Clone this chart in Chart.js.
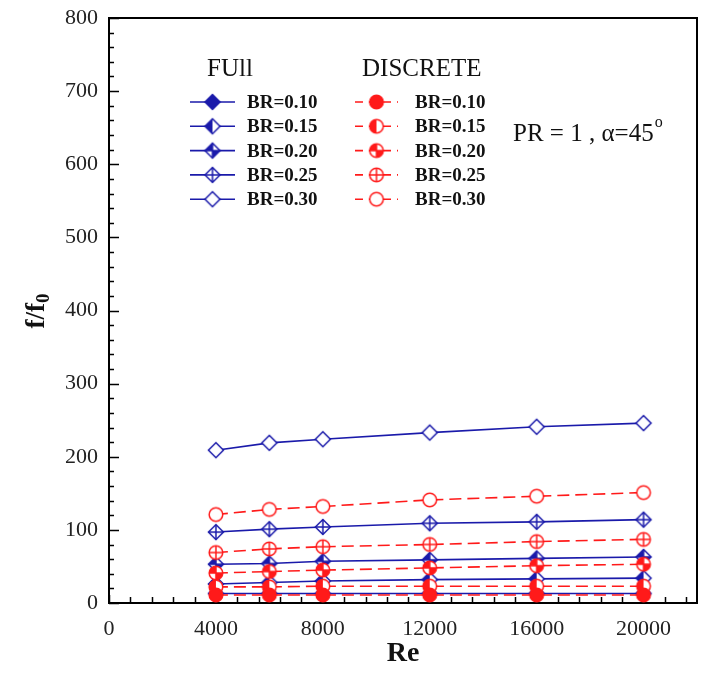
<!DOCTYPE html>
<html lang="en">
<head>
<meta charset="UTF-8">
<title>f/f0 vs Re</title>
<script src="https://cdn.jsdelivr.net/npm/chart.js"></script>
<style>
  html, body { margin: 0; padding: 0; background: #fff; }
  #wrap { width: 704px; height: 683px; }
</style>
</head>
<body>
<div id="wrap"><canvas id="chart" width="704" height="683"></canvas></div>
<script>
// data
const reValues = [4000, 6000, 8000, 12000, 16000, 20000];
const xTickValues = [0, 4000, 8000, 12000, 16000, 20000];
const yTickValues = [0, 100, 200, 300, 400, 500, 600, 700, 800];
const brLabels = ['BR=0.10', 'BR=0.15', 'BR=0.20', 'BR=0.25', 'BR=0.30'];

const fullBR010 = [13, 13, 13, 13, 13, 13];
const fullBR015 = [26, 28, 30, 32, 33, 34];
const fullBR020 = [53, 54, 57, 59, 61, 63];
const fullBR025 = [97, 101, 104, 109, 111, 114];
const fullBR030 = [209, 219, 224, 233, 241, 246];

const discreteBR010 = [11, 11, 11, 11, 11, 11];
const discreteBR015 = [22, 22, 23, 23, 23, 23];
const discreteBR020 = [41, 43, 45, 48, 51, 53];
const discreteBR025 = [69, 74, 77, 80, 84, 87];
const discreteBR030 = [121, 128, 132, 141, 146, 151];

const BLUE = '#1a1aaa';
const RED = '#ff1a1a';
const SERIF = "'Liberation Serif', 'Times New Roman', serif";

// little canvases used as point styles (and in the legend)
function makeMarker(shape, fill, color) {
    const s = 20, c = s / 2;
    const cv = document.createElement('canvas');
    cv.width = s; cv.height = s;
    const g = cv.getContext('2d');
    const r = shape === 'diamond' ? 7.5 : 6.8;
    const path = () => {
        g.beginPath();
        if (shape === 'diamond') {
            g.moveTo(c, c - r); g.lineTo(c + r, c); g.lineTo(c, c + r); g.lineTo(c - r, c); g.closePath();
        } else {
            g.arc(c, c, r, 0, Math.PI * 2);
        }
    };
    path(); g.fillStyle = '#fff'; g.fill();
    g.save(); path(); g.clip();
    g.fillStyle = color;
    if (fill === 'full') g.fillRect(0, 0, s, s);
    if (fill === 'left') g.fillRect(0, 0, c, s);
    if (fill === 'quad') { g.fillRect(0, 0, c, c); g.fillRect(c, c, c, c); }
    g.restore();
    g.strokeStyle = color; g.lineWidth = 1.5;
    if (fill === 'cross' || fill === 'quad') {
        g.beginPath();
        g.moveTo(c - r, c); g.lineTo(c + r, c);
        g.moveTo(c, c - r); g.lineTo(c, c + r);
        g.stroke();
    }
    path(); g.stroke();
    return cv;
}

const fullSeries = [fullBR010, fullBR015, fullBR020, fullBR025, fullBR030];
const discreteSeries = [discreteBR010, discreteBR015, discreteBR020, discreteBR025, discreteBR030];
const fills = ['full', 'left', 'quad', 'cross', 'open'];

const datasets = [];
fullSeries.forEach((arr, k) => {
    datasets.push({
        label: brLabels[k], group: 'full',
        data: reValues.map((x, i) => ({ x: x, y: arr[i] })),
        borderColor: BLUE, borderWidth: 1.6,
        pointStyle: makeMarker('diamond', fills[k], BLUE),
        order: 1
    });
});
discreteSeries.forEach((arr, k) => {
    datasets.push({
        label: brLabels[k], group: 'discrete',
        data: reValues.map((x, i) => ({ x: x, y: arr[i] })),
        borderColor: RED, borderWidth: 1.6, borderDash: [12, 6],
        pointStyle: makeMarker('circle', fills[k], RED),
        order: 0
    });
});

const legendCols = {
    full: { title: 'FUll', titleX: 207, x0: 190, x1: 235, textX: 247 },
    discrete: { title: 'DISCRETE', titleX: 362, x0: 355, x1: 398, textX: 415 }
};
const legendTitleY = 69, legendTop = 102, legendStep = 24.3;

const decorations = {
    id: 'decorations',
    beforeDatasetsDraw(chart) {
        const ctx = chart.ctx, a = chart.chartArea;
        const xs = chart.scales.x, ys = chart.scales.y;
        ctx.save();
        ctx.strokeStyle = '#000';
        ctx.lineWidth = 2;
        ctx.strokeRect(a.left, a.top, a.right - a.left, a.bottom - a.top);
        ctx.lineWidth = 1.5;
        ctx.beginPath();
        for (let v = ys.min; v <= ys.max; v += 20) {
            const py = Math.round(ys.getPixelForValue(v)) + 0.5;
            const len = v % 100 === 0 ? 10 : 5;
            ctx.moveTo(a.left, py); ctx.lineTo(a.left + len, py);
        }
        for (let v = xs.min; v <= xs.max; v += 800) {
            const px = Math.round(xs.getPixelForValue(v)) + 0.5;
            const len = v % 4000 === 0 ? 8 : 6;
            ctx.moveTo(px, a.bottom); ctx.lineTo(px, a.bottom - len);
        }
        ctx.stroke();
        ctx.restore();
    },
    afterDraw(chart) {
        const ctx = chart.ctx, a = chart.chartArea;
        ctx.save();
        ctx.fillStyle = '#111';
        ctx.textBaseline = 'middle';

        // axis titles
        ctx.font = 'bold 28px ' + SERIF;
        ctx.textAlign = 'center';
        ctx.fillText('Re', (a.left + a.right) / 2, 654);

        ctx.save();
        ctx.translate(37, 311);
        ctx.rotate(-Math.PI / 2);
        ctx.font = 'bold 27px ' + SERIF;
        const main = 'f/f';
        const wMain = ctx.measureText(main).width;
        ctx.font = 'bold 19px ' + SERIF;
        const wSub = ctx.measureText('0').width;
        const start = -(wMain + wSub) / 2;
        ctx.textAlign = 'left';
        ctx.font = 'bold 27px ' + SERIF;
        ctx.fillText(main, start, 0);
        ctx.font = 'bold 19px ' + SERIF;
        ctx.fillText('0', start + wMain, 7);
        ctx.restore();

        // annotation
        ctx.textAlign = 'left';
        ctx.font = '25px ' + SERIF;
        const note = 'PR = 1 , \u03b1=45';
        ctx.fillText(note, 513, 134);
        const wn = ctx.measureText(note).width;
        ctx.font = '16px ' + SERIF;
        ctx.fillText('o', 513 + wn + 1, 123);

        // legend
        ctx.font = '25px ' + SERIF;
        Object.values(legendCols).forEach(col => ctx.fillText(col.title, col.titleX, legendTitleY));
        const counts = { full: 0, discrete: 0 };
        chart.data.datasets.forEach(ds => {
            const col = legendCols[ds.group];
            const k = counts[ds.group]++;
            const y = legendTop + k * legendStep;
            ctx.save();
            ctx.strokeStyle = ds.borderColor;
            ctx.lineWidth = ds.borderWidth;
            ctx.setLineDash(ds.group === 'discrete' ? [8, 6] : []);
            ctx.beginPath();
            ctx.moveTo(col.x0, y); ctx.lineTo(col.x1, y);
            ctx.stroke();
            ctx.restore();
            const mx = (col.x0 + col.x1) / 2;
            ctx.drawImage(ds.pointStyle, mx - 10, y - 10);
            ctx.font = 'bold 19px ' + SERIF;
            ctx.fillStyle = '#111';
            ctx.fillText(ds.label, col.textX, y + 1);
        });
        ctx.restore();
    }
};

new Chart(document.getElementById('chart'), {
    type: 'line',
    data: { datasets: datasets },
    options: {
        responsive: false,
        animation: false,
        devicePixelRatio: 1,
        layout: { autoPadding: false, padding: { left: 0, top: 18, right: 7, bottom: 0 } },
        elements: {
            point: { radius: 8, hoverRadius: 8 },
            line: { tension: 0, fill: false }
        },
        scales: {
            x: {
                type: 'linear', min: 0, max: 22000,
                afterBuildTicks: s => { s.ticks = xTickValues.map(v => ({ value: v })); },
                afterFit: s => { s.height = 80; s.paddingLeft = 0; s.paddingRight = 0; },
                grid: { display: false },
                border: { display: false },
                ticks: {
                    color: '#222', padding: 5,
                    font: { family: SERIF, size: 22 },
                    maxRotation: 0, autoSkip: false,
                    callback: v => String(v)
                }
            },
            y: {
                min: 0, max: 800,
                afterBuildTicks: s => { s.ticks = yTickValues.map(v => ({ value: v })); },
                afterFit: s => { s.width = 109; s.paddingTop = 0; s.paddingBottom = 0; },
                grid: { display: false },
                border: { display: false },
                ticks: {
                    color: '#222', padding: 3,
                    font: { family: SERIF, size: 22 },
                    callback: v => String(v)
                }
            }
        },
        plugins: {
            legend: { display: false },
            tooltip: { enabled: false }
        }
    },
    plugins: [decorations]
});
</script>
</body>
</html>
